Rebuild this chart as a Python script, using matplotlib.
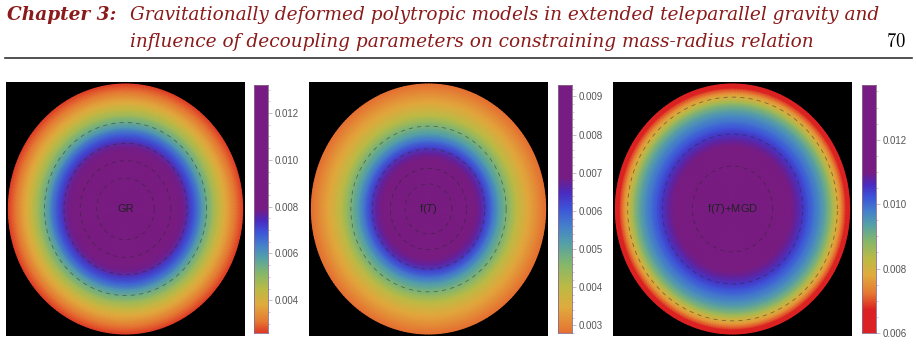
import numpy as np
import matplotlib
matplotlib.use('Agg')
import matplotlib.pyplot as plt
from matplotlib.colors import LinearSegmentedColormap, Normalize
from matplotlib.ticker import MultipleLocator, FormatStrFormatter
from matplotlib.lines import Line2D

plt.rcParams['font.family'] = ['Liberation Sans', 'DejaVu Sans']
plt.rcParams['mathtext.fontset'] = 'custom'
plt.rcParams['mathtext.rm'] = 'Liberation Sans'
plt.rcParams['mathtext.it'] = 'Liberation Sans:italic'
plt.rcParams['lines.dashed_pattern'] = [5, 5]

# radial density profiles (r normalised to the surface)
r_gr = [0, .1, .2, .3, .4, .45, .5, .55, .6, .65, .7, .75, .8, .85, .9, .95, 1.0]
rho_gr = [0.0132, 0.0129, 0.0121, 0.0108, 0.0093, 0.0086, 0.0078, 0.0072, 0.0067,
          0.0060, 0.0054, 0.0048, 0.0043, 0.0038, 0.0034, 0.0030, 0.0026]

r_ft = [0, .1, .2, .3, .4, .45, .5, .55, .6, .65, .7, .75, .8, .85, .9, .95, 1.0]
rho_ft = [0.0093, 0.0091, 0.0086, 0.0079, 0.0071, 0.0067, 0.0062, 0.0057, 0.0052,
          0.0048, 0.0044, 0.0040, 0.0037, 0.0034, 0.0032, 0.0030, 0.0028]

r_mgd = [0, .1, .2, .3, .4, .5, .55, .6, .65, .7, .75, .8, .85, .88, .91, .94, .97, 1.0]
rho_mgd = [0.0137, 0.0136, 0.0133, 0.0128, 0.0121, 0.0112, 0.0108, 0.0105, 0.0102,
           0.0099, 0.0096, 0.0092, 0.0086, 0.0081, 0.0077, 0.0072, 0.0066, 0.0060]

labels = ['GR', 'f($T$)', 'f($T$)+MGD']
# colour scale limits (saturated outside) and contour levels
vlims = [(0.0024, 0.0079), (0.0023, 0.0069), (0.0067, 0.0110)]
levels = [[0.0055, 0.0075, 0.0095, 0.0115],
          [0.0047, 0.0064, 0.0077, 0.0086],
          [0.0079, 0.0105, 0.0125]]
minor_steps = [0.0005, 0.0002, 0.0005]
major_steps = [0.002, 0.001, 0.002]

# Mathematica-like "Rainbow"
rainbow = LinearSegmentedColormap.from_list('rainbow_m', [
    (0.00, (0.86, 0.13, 0.13)),
    (0.12, (0.90, 0.47, 0.20)),
    (0.25, (0.88, 0.67, 0.24)),
    (0.37, (0.74, 0.73, 0.27)),
    (0.50, (0.52, 0.72, 0.42)),
    (0.62, (0.33, 0.63, 0.66)),
    (0.72, (0.27, 0.50, 0.80)),
    (0.82, (0.24, 0.33, 0.85)),
    (0.91, (0.29, 0.17, 0.75)),
    (1.00, (0.47, 0.11, 0.51)),
])

fig = plt.figure(figsize=(9.16, 3.61), dpi=100)
W, H = 916, 361

panel_x = [6, 309, 613]
cbar_x = [254, 558, 862]
profiles = [(r_gr, rho_gr), (r_ft, rho_ft), (r_mgd, rho_mgd)]

theta = np.linspace(0, 2 * np.pi, 241)

for i, (r, rho) in enumerate(profiles):
    r = np.array(r)
    rho = np.array(rho)
    norm = Normalize(*vlims[i])

    ax = fig.add_axes([panel_x[i] / W, 1 - 336 / H, 239 / W, 254 / H])
    ax.set_facecolor('black')
    R, TH = np.meshgrid(r, theta)
    X, Y = R * np.cos(TH), R * np.sin(TH)
    Z = np.tile(rho, (len(theta), 1))
    ax.pcolormesh(X, Y, Z, shading='gouraud', cmap=rainbow, norm=norm)
    ax.contour(X, Y, Z, levels=levels[i], colors=[(0.15, 0.15, 0.15, 0.5)],
               linewidths=0.6, linestyles='--')
    ax.text(0, 0, labels[i], ha='center', va='center', fontsize=8, color='#222222')
    ax.set_xlim(-1.02, 1.02)
    ax.set_ylim(-1.016, 1.016)
    ax.set_xticks([])
    ax.set_yticks([])
    for s in ax.spines.values():
        s.set_visible(False)

    # colour bar
    cax = fig.add_axes([cbar_x[i] / W, 1 - 333 / H, 14 / W, 248 / H])
    grad = np.linspace(rho.min(), rho.max(), 300)
    cax.imshow(grad[:, None], aspect='auto', origin='lower', cmap=rainbow, norm=norm,
               extent=[0, 1, rho.min(), rho.max()])
    cax.set_ylim(rho.min(), rho.max())
    cax.set_xticks([])
    cax.yaxis.tick_right()
    cax.yaxis.set_major_locator(MultipleLocator(major_steps[i]))
    cax.yaxis.set_minor_locator(MultipleLocator(minor_steps[i]))
    cax.yaxis.set_major_formatter(FormatStrFormatter('%.3f'))
    cax.tick_params(axis='y', which='major', length=3, width=0.5, color='#aaaaaa',
                    labelsize=7, labelcolor='#555555', pad=2)
    cax.tick_params(axis='y', which='minor', length=1.5, width=0.5, color='#bbbbbb')
    for s in cax.spines.values():
        s.set_linewidth(0.6)
        s.set_color('#8a6a8a')

# page header
red = '#8b1a1a'
line1 = 'Gravitationally deformed polytropic models in extended teleparallel gravity and'
line2 = 'influence of decoupling parameters on constraining mass-radius relation'
hdr = dict(family='DejaVu Serif', style='italic', fontsize=13.3, color=red, va='baseline')
fig.text(7 / W, 1 - 20 / H, 'Chapter 3:', weight='bold', **hdr)
fig.text(130 / W, 1 - 20 / H, line1, **hdr)
fig.text(130 / W, 1 - 47 / H, line2, **hdr)
fig.text(906 / W, 1 - 47 / H, r'$\mathrm{70}$', math_fontfamily='cm', fontsize=13.5,
         color='black', va='baseline', ha='right')
fig.add_artist(Line2D([5 / W, 912 / W], [1 - 58 / H, 1 - 58 / H], color='#333333', lw=1.2))

fig.savefig('out.png', dpi=100)
